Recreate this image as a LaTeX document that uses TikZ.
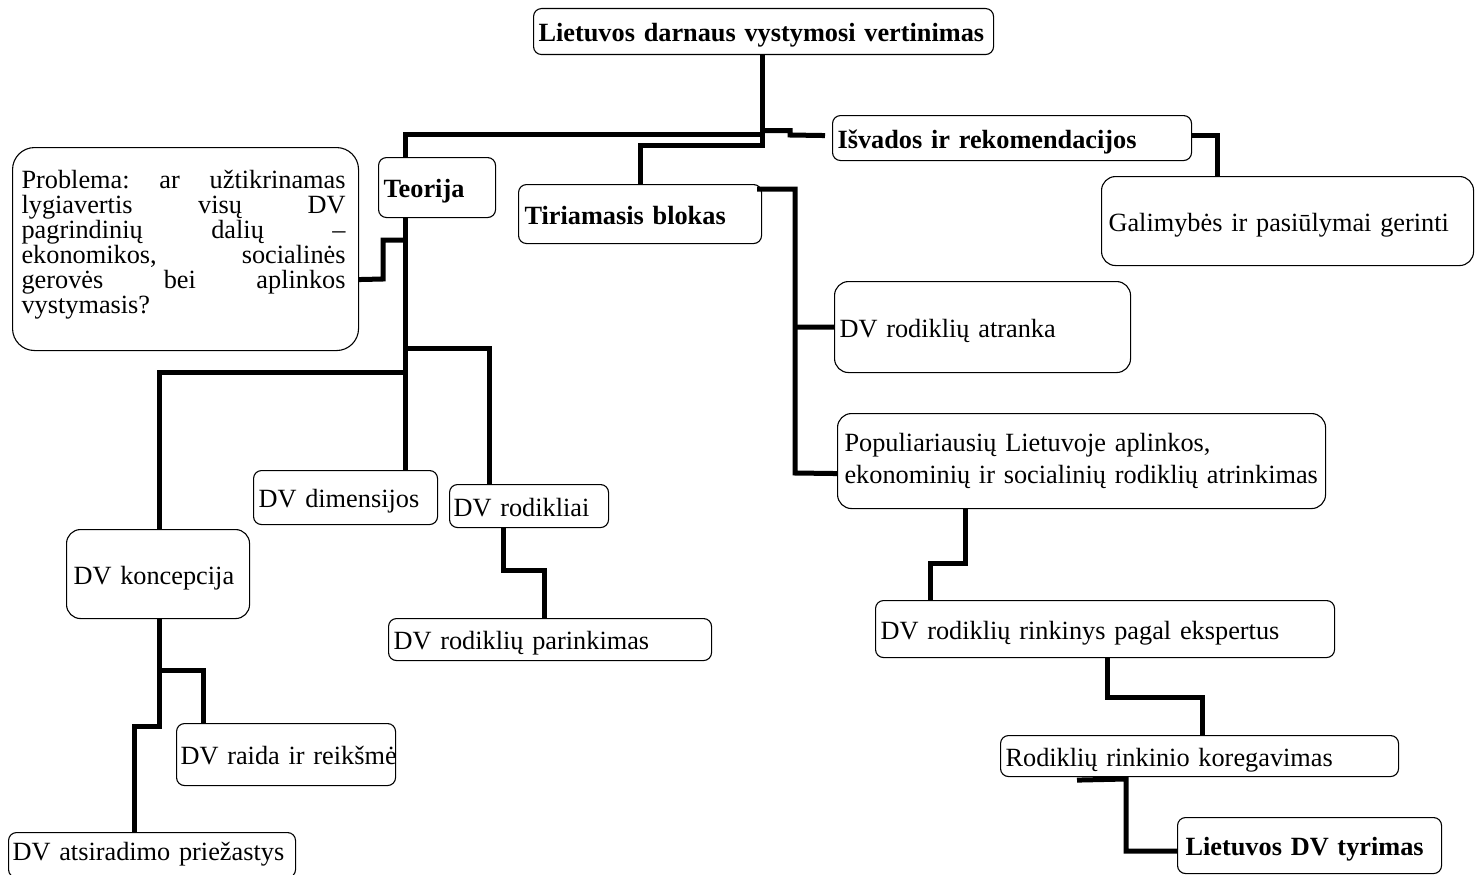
\documentclass[tikz,border=0pt]{standalone}
\usepackage{fontspec}
\setmainfont{Liberation Serif}
\newcommand{\dvfont}{\fontsize{26.3}{30}\selectfont}
\frenchspacing

\begin{document}
\begin{tikzpicture}[
    x=1pt, y=-1pt,
    every node/.style={font=\dvfont},
    blk/.style={draw, line width=1.1pt, rounded corners=8pt, anchor=north west,
        inner xsep=5pt, inner ysep=0pt, align=left},
    one/.style={text height=20pt, text depth=0pt},
    hd/.style={font=\dvfont\bfseries},
    lnk/.style={line width=5pt},
]
\useasboundingbox (0,0) rectangle (1481,875);

% === Main title ===
\node[blk, one, hd, minimum width=460pt, minimum height=46pt, text width=450pt]
    (top) at (533,8) {Lietuvos darnaus vystymosi vertinimas};

% === First level ===
\node[blk, one, hd, minimum width=117pt, minimum height=60pt, text width=107pt]
    (teorija) at (378,157) {Teorija};
\node[blk, one, hd, inner xsep=6pt, minimum width=243pt, minimum height=59pt, text width=231pt]
    (tiriamasis) at (518,184) {Tiriamasis blokas};
\node[blk, one, hd, minimum width=359pt, minimum height=45pt, text width=349pt]
    (isvados) at (832,115) {Išvados ir rekomendacijos};
\node[blk, one, rounded corners=14pt, inner xsep=7pt, minimum width=372pt, minimum height=89pt, text width=358pt]
    (galimybes) at (1101,176) {Galimybės ir pasiūlymai gerinti};

% === Problem statement ===
\node[blk, rounded corners=22pt, inner xsep=9pt, minimum width=346pt, minimum height=203pt,
    text width=328pt, font=\fontsize{26.3}{25.1}\selectfont]
    (problema) at (12,147) {\makebox[324pt]{Problema:\hfill ar\hfill užtikrinamas}\\
    \makebox[324pt]{lygiavertis\hfill visų\hfill DV}\\
    \makebox[324pt]{pagrindinių\hfill dalių\hfill –}\\
    \makebox[324pt]{ekonomikos,\hfill socialinės}\\
    \makebox[324pt]{gerovės\hfill bei\hfill aplinkos}\\
    vystymasis?\rule[-14pt]{0pt}{14pt}};

% === Theory branch ===
\node[blk, one, minimum width=184pt, minimum height=54pt, text width=174pt]
    (dimensijos) at (253,470) {DV dimensijos};
\node[blk, one, inner xsep=4pt, minimum width=159pt, minimum height=43pt, text width=151pt]
    (rodikliai) at (449,484) {DV rodikliai};
\node[blk, one, minimum width=323pt, minimum height=42pt, text width=313pt]
    (parinkimas) at (388,618) {DV rodiklių parinkimas};
\node[blk, one, rounded corners=14pt, inner xsep=7pt, minimum width=183pt, minimum height=89pt, text width=169pt]
    (koncepcija) at (66,529) {DV koncepcija};
\node[blk, one, inner xsep=4pt, minimum width=219pt, minimum height=62pt, text width=211pt]
    (raida) at (176,723) {\mbox{DV raida ir reikšmė}};
\node[blk, one, text height=11pt, inner xsep=4pt, minimum width=287pt, minimum height=45pt, text width=279pt]
    (atsiradimo) at (8,832) {DV atsiradimo priežastys};

% === Research branch ===
\node[blk, one, rounded corners=14pt, minimum width=296pt, minimum height=91pt, text width=286pt]
    (atranka) at (834,281) {DV rodiklių atranka};
\node[blk, rounded corners=14pt, inner xsep=7pt, minimum width=488pt, minimum height=95pt,
    text width=474pt, font=\fontsize{26.3}{31.7}\selectfont]
    (populiariausiu) at (837,413) {\mbox{Populiariausių Lietuvoje aplinkos,}\\
    \mbox{ekonominių ir socialinių rodiklių atrinkimas}};
\node[blk, one, minimum width=459pt, minimum height=57pt, text width=449pt]
    (ekspertus) at (875,600) {DV rodiklių rinkinys pagal ekspertus};
\node[blk, one, minimum width=398pt, minimum height=41pt, text width=388pt]
    (koregavimas) at (1000,735) {Rodiklių rinkinio koregavimas};
\node[blk, one, hd, inner xsep=8pt, minimum width=264pt, minimum height=56pt, text width=248pt]
    (tyrimas) at (1177,817) {Lietuvos DV tyrimas};

% === Connectors from the title ===
\draw[lnk] (top.south -| 762,0) -- (762,148);
\draw[lnk] (762,134) -| (teorija.north -| 405,0);
\draw[lnk] (762,145.5) -| (tiriamasis.north -| 640,0);
\draw[lnk] (762,130.5) -- (790,130.5) -- (790,135) -- ([xshift=-7pt,yshift=2.5pt]isvados.west);
\draw[lnk] ([yshift=2.5pt]isvados.east) -| (galimybes.north -| 1217,0);

% === Theory connectors ===
\draw[lnk] (teorija.south -| 405,0) -- (dimensijos.north -| 405,0);
\draw[lnk] ([yshift=-30.5pt]problema.east) -- (383,279) -- (383,240) -- (405,240);
\draw[lnk] (405,348) -| (rodikliai.north -| 489,0);
\draw[lnk] (405,372) -| (koncepcija.north -| 159,0);
\draw[lnk] (rodikliai.south -| 503,0) |- (544,570) -- (parinkimas.north -| 544,0);
\draw[lnk] (koncepcija.south -| 159,0) -- (159,726) -| (atsiradimo.north -| 134,0);
\draw[lnk] (159,670) -| (raida.north -| 203,0);

% === Research connectors ===
\draw[lnk] ([xshift=-5pt,yshift=-5pt]tiriamasis.north east) -| (795,473)
    -- ([yshift=-12.5pt]populiariausiu.west);
\draw[lnk] (795,327) -- (atranka.west);
\draw[lnk] (populiariausiu.south -| 965,0) |- (930,563) -- (ekspertus.north -| 930,0);
\draw[lnk] (ekspertus.south -| 1107,0) |- (1202,697) -- (koregavimas.north -| 1202,0);
\draw[lnk] (koregavimas.south -| 1077,0) ++(0,3) -- (1126,779) |- (tyrimas.west |- 0,851);

\end{tikzpicture}
\end{document}
